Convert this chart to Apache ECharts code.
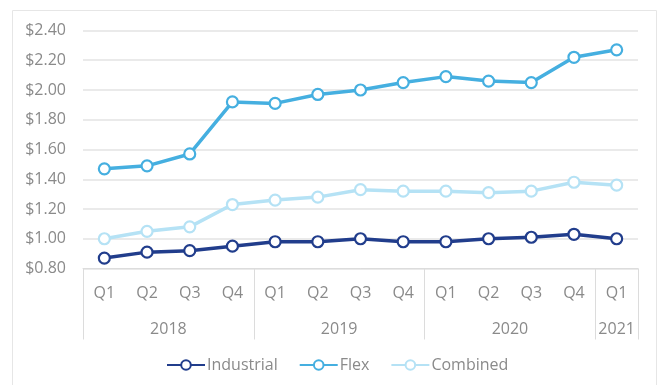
<!DOCTYPE html>
<html><head><meta charset="utf-8">
<script src="https://cdn.jsdelivr.net/npm/echarts@6/dist/echarts.min.js"></script>
<style>html,body{margin:0;padding:0;background:#fff}#c{width:658px;height:385px}</style>
</head><body><div id="c"></div>
<script>
const quarters = ['Q1','Q2','Q3','Q4','Q1','Q2','Q3','Q4','Q1','Q2','Q3','Q4','Q1'];
const years = ['2018','2019','2020','2021'];
const industrial = [0.87,0.91,0.92,0.95,0.98,0.98,1.00,0.98,0.98,1.00,1.01,1.03,1.00];
const flex = [1.47,1.49,1.57,1.92,1.91,1.97,2.00,2.05,2.09,2.06,2.05,2.22,2.27];
const combined = [1.00,1.05,1.08,1.23,1.26,1.28,1.33,1.32,1.32,1.31,1.32,1.38,1.36];
const yTicks = {min:0.8, max:2.4, interval:0.2};

const FONT = '"Open Sans", sans-serif';
const GRAY = '#8a8a8a';
const chart = echarts.init(document.getElementById('c'), null, {renderer:'canvas'});
const yearPos = {2:years[0], 6:years[1], 10:years[2], 12.5:years[3]};
function mk(name, data, color){
  return {name, type:'line', data, xAxisIndex:0, yAxisIndex:0,
    symbol:'circle', symbolSize:11,
    lineStyle:{width:3.5, color},
    itemStyle:{color:'#fff', borderColor:color, borderWidth:2.2},
    emphasis:{disabled:true}, animation:false};
}
chart.setOption({
  animation:false,
  textStyle:{fontFamily:FONT},
  graphic:[{type:'rect', shape:{x:12.5,y:10.5,width:644,height:400}, style:{fill:'none', stroke:'#e6e6e6', lineWidth:1}, silent:true}],
  grid:{left:83, right:20, top:30.5, bottom:116.5},
  legend:{bottom:7, left:161, itemWidth:38, itemHeight:12, itemGap:21,
    textStyle:{color:GRAY, fontSize:16, fontFamily:FONT, padding:[0,0,0,-3]},
    data:['Industrial','Flex','Combined']},
  xAxis:[{
    type:'category', data:quarters, boundaryGap:true,
    axisLine:{lineStyle:{color:'#dcdcdc', width:1}},
    axisTick:{show:true, length:71, interval:(i)=>i%4===0, lineStyle:{color:'#dcdcdc'}},
    axisLabel:{color:GRAY, fontSize:16, fontFamily:FONT, margin:17, interval:0},
    splitLine:{show:false}
  },{
    type:'value', min:0, max:13, interval:0.5, position:'bottom',
    axisLine:{show:false}, axisTick:{show:false}, splitLine:{show:false},
    axisLabel:{color:GRAY, fontSize:16, fontFamily:FONT, margin:53, showMinLabel:true, showMaxLabel:true,
      formatter:(v)=> yearPos[v] || ''}
  }],
  yAxis:{type:'value', min:yTicks.min, max:yTicks.max, interval:yTicks.interval,
    axisLine:{show:false}, axisTick:{show:false},
    splitLine:{lineStyle:{color:'#e3e3e3', width:1.5}},
    axisLabel:{color:GRAY, fontSize:16, fontFamily:FONT, margin:17,
      formatter:(v)=>'$'+v.toFixed(2)}},
  series:[
    mk('Industrial', industrial, '#213d8c'),
    mk('Flex', flex, '#45afe0'),
    mk('Combined', combined, '#b5e2f5')
  ]
});
</script></body></html>
